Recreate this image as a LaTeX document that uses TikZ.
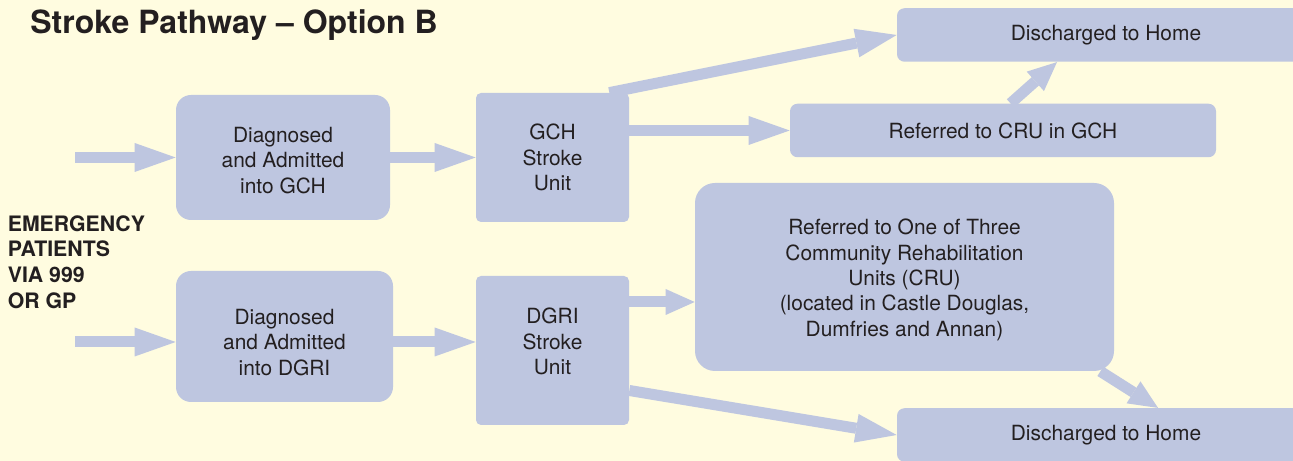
\documentclass[tikz,border=0pt]{standalone}
\usepackage{fontspec}
\setmainfont{TeX Gyre Heros}
\usepackage{xcolor}
\usepackage{tikz}
\usetikzlibrary{arrows.meta, positioning, calc}
\definecolor{paper}{HTML}{FFFCE0}
\definecolor{lilac}{HTML}{BEC6E0}
\definecolor{ink}{HTML}{231F20}
\tikzstyle{box}      = [rectangle, rounded corners=0.3cm, fill=lilac, text=ink,
                        align=center, inner sep=0pt,
                        font=\fontsize{11.9}{14.4}\selectfont]
\tikzstyle{unit}     = [box, rounded corners=0.1cm]
\tikzstyle{bar}      = [box, rounded corners=0.15cm, minimum height=1.07cm]
\tikzstyle{fat}      = [line width=0.22cm, draw=lilac,
                        -{Triangle[length=0.82cm, width=0.58cm, line width=0pt]}]
\tikzstyle{fatshort} = [fat, -{Triangle[length=0.58cm, width=0.52cm, line width=0pt]}]

\begin{document}
\begin{tikzpicture}

  \fill[paper] (0,0) rectangle (25.86,9.22);
  \useasboundingbox (0,0) rectangle (25.86,9.22);

  %% ── Headings ──
  \node[anchor=base west, inner sep=0pt, text=ink,
        font=\bfseries\fontsize{18.2}{22}\selectfont] (title) at (0.6,8.54)
        {Stroke Pathway – Option B};
  \node[anchor=north west, inner sep=0pt, text=ink, align=left,
        font=\bfseries\fontsize{12.1}{14.6}\selectfont] (emerg) at (0.15,4.92)
        {EMERGENCY\\PATIENTS\\VIA 999\\OR GP};

  %% ── Admission ──
  \node[box, minimum width=4.28cm, minimum height=2.5cm, text height=1.44cm]
        (diagG) at (5.66,6.07) {Diagnosed\\and Admitted\\into GCH};
  \node[box, minimum width=4.34cm, minimum height=2.62cm, text height=1.56cm]
        (diagD) at (5.69,2.49) {Diagnosed\\and Admitted\\into DGRI};

  %% ── Stroke units ──
  \node[unit, minimum width=3.06cm, minimum height=2.58cm] (gchSU) at (11.05,6.07)
        {GCH\\Stroke\\Unit};
  \node[unit, minimum width=3.06cm, minimum height=2.98cm, text depth=0.36cm]
        (dgriSU) at (11.05,2.21) {DGRI\\Stroke\\Unit};

  %% ── Outcomes ──
  \node[bar, minimum width=8.36cm] (homeT) at (22.12,8.52) {Discharged to Home};
  \node[bar, minimum width=8.52cm] (cruG) at (20.06,6.61) {Referred to CRU in GCH};
  \node[box, rounded corners=0.4cm, minimum width=8.38cm, minimum height=3.76cm,
        text height=2.45cm] (cru) at (18.09,3.68)
        {Referred to One of Three\\Community Rehabilitation\\Units (CRU)\\
         (located in Castle Douglas,\\Dumfries and Annan)};
  \node[bar, minimum width=8.36cm] (homeB) at (22.12,0.52) {Discharged to Home};

  %% ── Arrows ──
  \coordinate (inG) at (1.5,6.07);
  \coordinate (inD) at (1.5,2.38);
  \coordinate (cruIn) at ([yshift=-0.5cm]cru.west);
  \draw[fat] (inG) -- (inG -| diagG.west);
  \draw[fat] (inD) -- (inD -| diagD.west);
  \draw[fat] (diagG) -- (gchSU);
  \draw[fat] (diagD.east |- inD) -- (dgriSU.west |- inD);
  \draw[fat] ([xshift=-0.4cm]gchSU.north east) -- (homeT.west);
  \draw[fat] (gchSU.east |- cruG.west) -- (cruG.west);
  \draw[fatshort] ([xshift=0.15cm]cruG.north) -- ([xshift=-0.98cm]homeT.south);
  \draw[fatshort] (dgriSU.east |- cruIn) -- (cruIn);
  \draw[fat] ([yshift=-0.8cm]dgriSU.east) -- (homeB.west);
  \draw[fatshort] ([xshift=-0.28cm]cru.south east) -- ([xshift=1.04cm]homeB.north);

\end{tikzpicture}
\end{document}
